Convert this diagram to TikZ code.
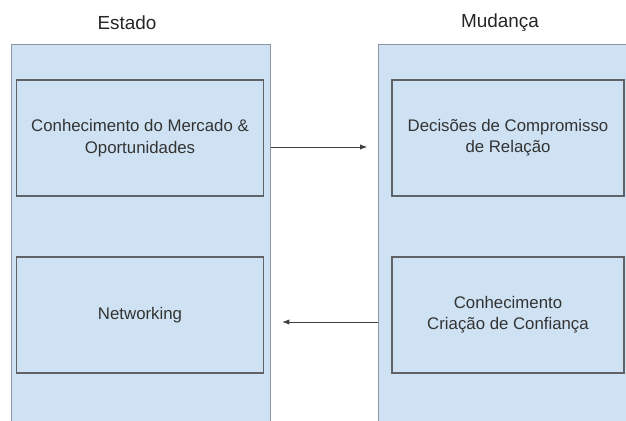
\documentclass[tikz,border=0pt]{standalone}
\usepackage{fontspec}
\setmainfont{Liberation Sans}
\usetikzlibrary{arrows.meta,positioning,calc}
\definecolor{colfill}{HTML}{CFE2F3}
\definecolor{boxline}{HTML}{5F6368}
\definecolor{colline}{HTML}{8C97A3}
\definecolor{txt}{HTML}{333333}
\tikzset{
col/.style={draw=colline,fill=colfill,line width=1pt,inner sep=0pt,anchor=north west},
box/.style={draw=boxline,line width=1.1pt,align=center,text=txt,
  font=\fontsize{12.6}{16}\selectfont,inner sep=0pt},
title/.style={text=black!85,font=\fontsize{14.2}{17}\selectfont},
arc/.style={-{Latex[length=5.5pt,width=4pt]},draw=black!75,line width=0.7pt}
}

\begin{document}
\begin{tikzpicture}[x=0.75pt,y=-0.75pt]
	\useasboundingbox (0,0) rectangle (626,421);
	\clip (0,0) rectangle (626,421);

	% columns
	\node[col,minimum width=194.25pt,minimum height=300pt] (estado) at (11,44) {};
	\node[col,minimum width=200pt,minimum height=300pt] (mudanca) at (378,44) {};
	\node[title] (testado) at (127,23) {Estado};
	\node[title] (tmudanca) at (500,23) {Mudança};

	% boxes
	\node[box,minimum width=185.6pt,minimum height=87pt] (mercado) at (140,138)
		{Conhecimento do Mercado \&\\Oportunidades};
	\node[box,minimum width=185.6pt,minimum height=87pt] (network) at (140,315)
		{Networking};
	\node[box,minimum width=174pt,minimum height=87pt] (decisoes) at (508,138)
		{Decisões de Compromisso\\de Relação};
	\node[box,minimum width=174pt,minimum height=87pt] (confianca) at (508,315)
		{Conhecimento\\Criação de Confiança};

	% arrows
	\coordinate (p1) at ([yshift=-6.75pt]mercado.east -| estado.east);
	\coordinate (p2) at ([yshift=-5.25pt]confianca.west -| mudanca.west);
	\draw[arc,shorten >=8pt] (p1) -- (p1 -| mudanca.west);
	\draw[arc,shorten >=8pt] (p2) -- (p2 -| estado.east);
\end{tikzpicture}
\end{document}
